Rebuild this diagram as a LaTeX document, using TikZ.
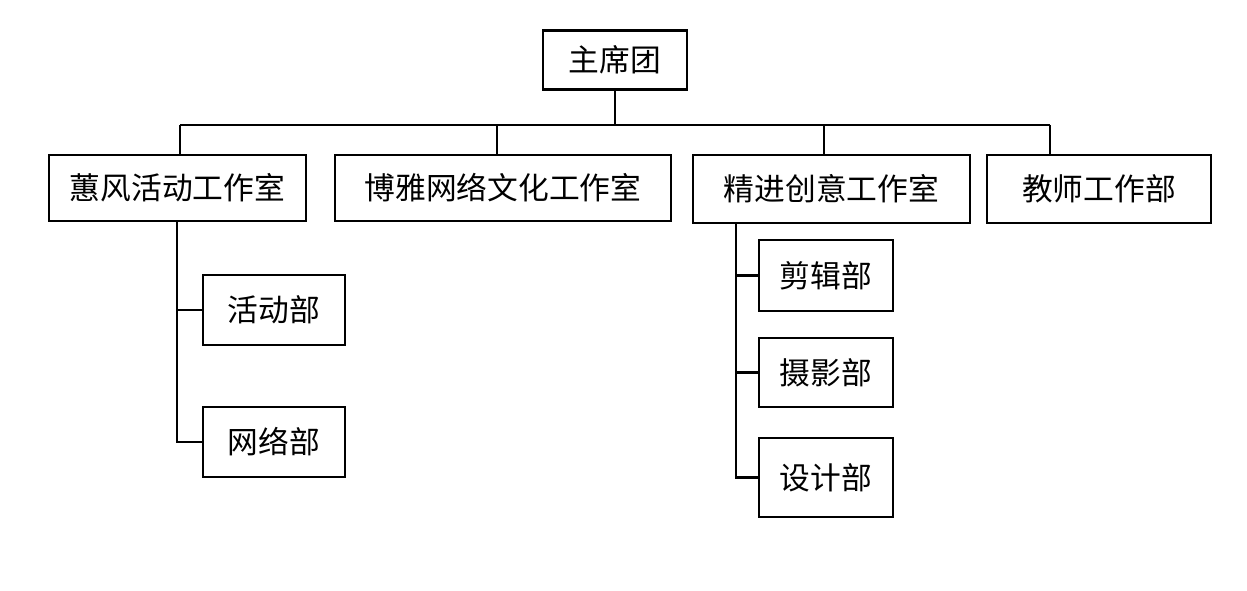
\documentclass[tikz,border=0pt]{standalone}
\usepackage{fontspec}
\newfontfamily\cjk{Noto Sans CJK SC}
\begin{document}
\begin{tikzpicture}[x=0.02cm,y=-0.02cm,line width=1.4pt,
    box/.style={draw,font=\cjk\fontsize{17.5}{20}\selectfont,inner sep=0pt}]
        \useasboundingbox(0,0)rectangle(1247,591);
        \node[box,minimum width=2.88cm,minimum height=1.18cm](zxt)at(615,60){主席团};
        \node[box,minimum width=5.14cm,minimum height=1.32cm](hf)at(177.5,188){蕙风活动工作室};
        \node[box,minimum width=6.72cm,minimum height=1.32cm](by)at(503,188){博雅网络文化工作室};
        \node[box,minimum width=5.54cm,minimum height=1.36cm](jj)at(831.5,189){精进创意工作室};
        \node[box,minimum width=4.48cm,minimum height=1.36cm](js)at(1099,189){教师工作部};
        \node[box,minimum width=2.84cm,minimum height=1.4cm](hd)at(274,310){活动部};
        \node[box,minimum width=2.84cm,minimum height=1.4cm](wl)at(274,442){网络部};
        \node[box,minimum width=2.68cm,minimum height=1.42cm](jjb)at(826,275.5){剪辑部};
        \node[box,minimum width=2.68cm,minimum height=1.38cm](sy)at(826,372.5){摄影部};
        \node[box,minimum width=2.68cm,minimum height=1.58cm](sj)at(826,477.5){设计部};
        \coordinate(bus)at(615,125);
        \coordinate(d1)at(180,125);
        \coordinate(d2)at(497,125);
        \coordinate(d3)at(824,125);
        \coordinate(d4)at(1050,125);
        \coordinate(v1)at(177,0);
        \coordinate(v2)at(736,0);
        \draw(zxt.south)--(bus);
        \draw(d1)--(d4);
        \draw(d1)--(d1|-hf.north);
        \draw(d2)--(d2|-by.north);
        \draw(d3)--(d3|-jj.north);
        \draw(d4)--(d4|-js.north);
        \draw(v1|-hf.south)--(v1|-wl.west)--(wl.west);
        \draw(v1|-hd.west)--(hd.west);
        \draw(v2|-jj.south)--(v2|-sj.west)--(sj.west);
        \draw(v2|-jjb.west)--(jjb.west);
        \draw(v2|-sy.west)--(sy.west);
\end{tikzpicture}
\end{document}
